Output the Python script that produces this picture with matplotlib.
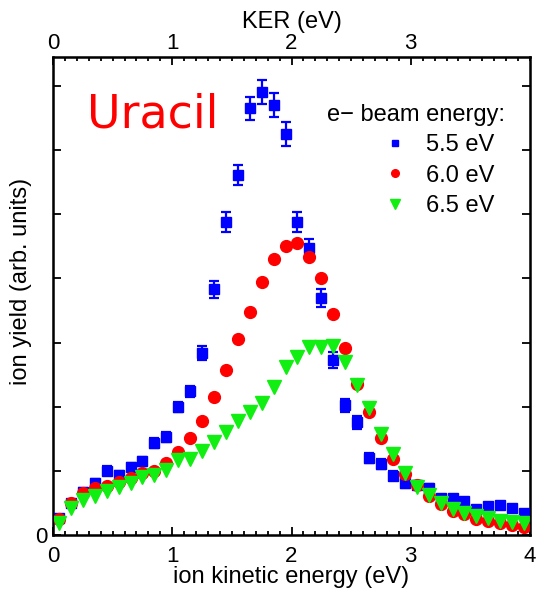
import matplotlib.pyplot as plt
from matplotlib.lines import Line2D
from matplotlib.ticker import MultipleLocator

# ion kinetic energy, centres of 0.1 eV bins
energy = [0.05, 0.15, 0.25, 0.35, 0.45, 0.55, 0.65, 0.75, 0.85, 0.95,
          1.05, 1.15, 1.25, 1.35, 1.45, 1.55, 1.65, 1.75, 1.85, 1.95,
          2.05, 2.15, 2.25, 2.35, 2.45, 2.55, 2.65, 2.75, 2.85, 2.95,
          3.05, 3.15, 3.25, 3.35, 3.45, 3.55, 3.65, 3.75, 3.85, 3.95]

# 5.5 eV beam (with error bars)
yield_55 = [0.26, 0.50, 0.67, 0.81, 1.00, 0.93, 1.06, 1.15, 1.43, 1.53,
            1.99, 2.24, 2.83, 3.83, 4.88, 5.61, 6.65, 6.90, 6.70, 6.25,
            4.88, 4.47, 3.69, 2.73, 2.02, 1.76, 1.20, 1.11, 0.92, 0.81,
            0.78, 0.73, 0.58, 0.58, 0.53, 0.40, 0.45, 0.47, 0.42, 0.34]
err_55 = [0.05, 0.05, 0.06, 0.06, 0.07, 0.07, 0.07, 0.07, 0.08, 0.08,
          0.08, 0.09, 0.11, 0.13, 0.15, 0.16, 0.18, 0.19, 0.19, 0.18,
          0.16, 0.15, 0.14, 0.12, 0.10, 0.10, 0.08, 0.08, 0.07, 0.07,
          0.06, 0.06, 0.05, 0.05, 0.05, 0.05, 0.05, 0.05, 0.05, 0.05]

# 6.0 eV beam
yield_60 = [0.25, 0.50, 0.65, 0.73, 0.76, 0.83, 0.89, 0.97, 1.00, 1.12,
            1.29, 1.51, 1.78, 2.15, 2.57, 3.05, 3.47, 3.94, 4.30, 4.50,
            4.55, 4.33, 4.00, 3.44, 2.91, 2.35, 1.92, 1.51, 1.18, 0.95,
            0.78, 0.61, 0.48, 0.37, 0.33, 0.25, 0.22, 0.19, 0.16, 0.12]

# 6.5 eV beam
yield_65 = [0.19, 0.42, 0.55, 0.61, 0.69, 0.75, 0.81, 0.90, 0.93, 1.01,
            1.17, 1.18, 1.31, 1.45, 1.60, 1.78, 1.92, 2.05, 2.31, 2.62,
            2.77, 2.93, 2.93, 2.94, 2.69, 2.34, 1.98, 1.57, 1.26, 0.97,
            0.75, 0.62, 0.50, 0.40, 0.34, 0.30, 0.26, 0.22, 0.20, 0.19]

labels = ["5.5 eV", "6.0 eV", "6.5 eV"]
colors = ["blue", "red", "#11ee11"]

# arbitrary units: only the zero is labelled
yticks = [0, 1, 2, 3, 4, 5, 6, 7]
ytick_labels = ["0", "", "", "", "", "", "", ""]
ker_ticks = [0, 1, 2, 3]

plt.rcParams["font.family"] = ["Liberation Sans", "DejaVu Sans"]

fig = plt.figure(figsize=(5.37, 5.90), dpi=100)
ax = fig.add_axes([0.0987, 0.0932, 0.8883, 0.8102])

ax.errorbar(energy, yield_55, yerr=err_55, fmt="s", color=colors[0],
            markersize=7, elinewidth=1.6, capsize=3.5, capthick=1.6,
            zorder=3)
ax.plot(energy, yield_60, "o", color=colors[1], markersize=8.5, zorder=4)
ax.plot(energy, yield_65, "v", color=colors[2], markersize=9.5, zorder=5)

ax.set_xlim(0, 4)
ax.set_ylim(0, 7.45)

# bottom / left / right axes
ax.xaxis.set_major_locator(MultipleLocator(1))
ax.xaxis.set_minor_locator(MultipleLocator(0.1))
ax.set_yticks(yticks, ytick_labels)
ax.tick_params(which="both", direction="in", right=True, width=1.3,
               labelsize=16, pad=4)
ax.tick_params(axis="x", pad=8)
ax.tick_params(which="major", length=6)
ax.tick_params(which="minor", length=3)
ax.tick_params(axis="x", which="both", top=False)
for s in ax.spines.values():
    s.set_linewidth(1.8)

ax.set_xlabel("ion kinetic energy (eV)", fontsize=17, labelpad=-1)
ax.set_ylabel("ion yield (arb. units)", fontsize=17)
ax.yaxis.set_label_coords(-0.043, 0.53)

# top KER axis
top = ax.twiny()
top.set_xlim(0, 4)
top.set_xticks(ker_ticks)
top.xaxis.set_minor_locator(MultipleLocator(0.1))
top.tick_params(which="both", direction="in", width=1.3, labelsize=16, pad=2)
top.tick_params(which="major", length=6)
top.tick_params(which="minor", length=3)
top.set_xlabel("KER (eV)", fontsize=17, labelpad=4)

ax.text(0.072, 0.852, "Uracil", transform=ax.transAxes, color="red",
        fontsize=33, family="DejaVu Sans")

# legend title as separate text, entries with plain markers (no error bars)
ax.text(0.948, 0.902, "e\u2212 beam energy:", transform=ax.transAxes,
        ha="right", va="top", fontsize=17)
handles = [
    Line2D([], [], ls="none", marker="s", color=colors[0], markersize=4.5),
    Line2D([], [], ls="none", marker="o", color=colors[1], markersize=5.5),
    Line2D([], [], ls="none", marker="v", color=colors[2], markersize=6.5),
]
ax.legend(handles, labels, loc="upper right", bbox_to_anchor=(0.925, 0.838),
          frameon=False, fontsize=17, handletextpad=0.7, labelspacing=0.35,
          handlelength=1.2, borderaxespad=0, borderpad=0)

fig.savefig("out.png", dpi=100)
